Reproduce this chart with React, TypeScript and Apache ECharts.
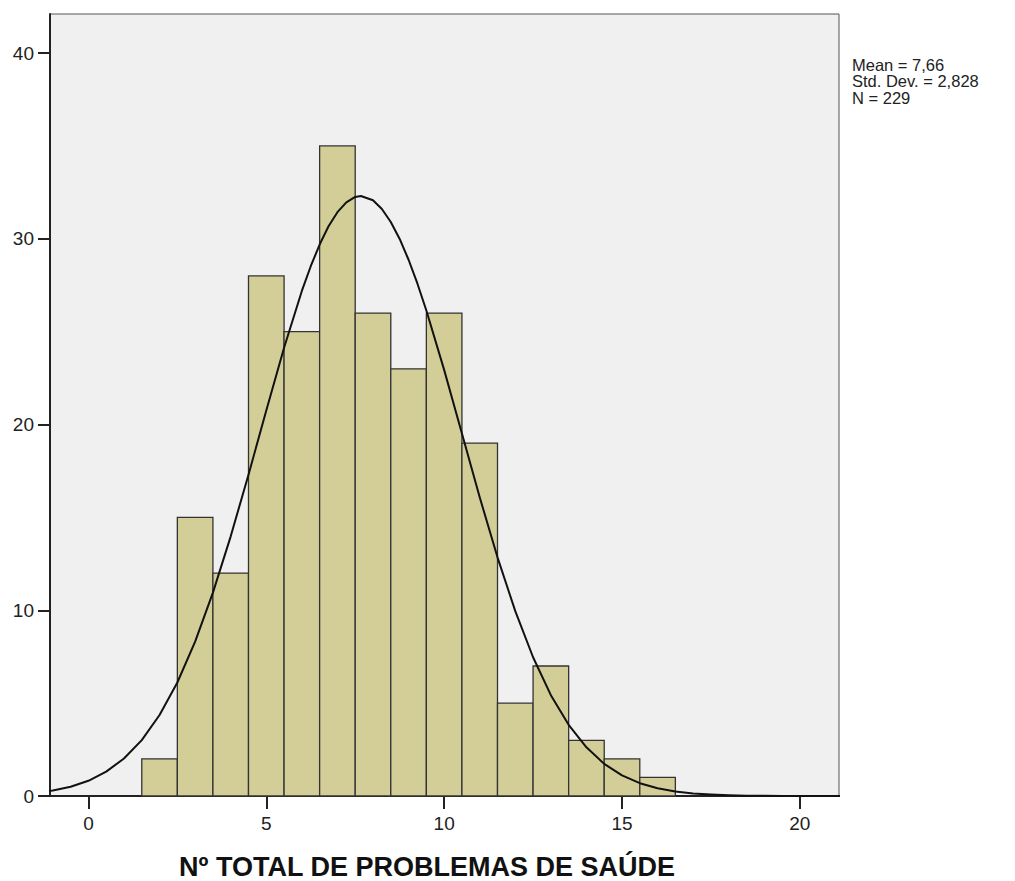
import React, { useEffect, useRef } from "react";
import * as echarts from "echarts";

// Histogram bins (lower edge, upper edge) and frequencies
const binLower = [1.5, 2.5, 3.5, 4.5, 5.5, 6.5, 7.5, 8.5, 9.5, 10.5, 11.5, 12.5, 13.5, 14.5, 15.5];
const binUpper = [2.5, 3.5, 4.5, 5.5, 6.5, 7.5, 8.5, 9.5, 10.5, 11.5, 12.5, 13.5, 14.5, 15.5, 16.5];
const frequencies = [2, 15, 12, 28, 25, 35, 26, 23, 26, 19, 5, 7, 3, 2, 1];

// Fitted normal curve points
const curveX = [-1.2, -1, -0.5, 0, 0.5, 1, 1.5, 2, 2.5, 3, 3.5, 4, 4.5, 5, 5.5, 6, 6.25, 6.5, 6.75, 7, 7.25, 7.5, 7.66, 8, 8.25, 8.5, 8.75, 9, 9.25, 9.5, 10, 10.5, 11, 11.5, 12, 12.5, 13, 13.5, 14, 14.5, 15, 15.5, 16, 16.5, 17, 17.5, 18, 18.5, 19, 19.5, 20, 20.5, 21, 21.2];
const curveY = [0.24, 0.3, 0.5, 0.82, 1.31, 2.02, 3.01, 4.36, 6.11, 8.31, 10.95, 13.98, 17.3, 20.75, 24.13, 27.19, 28.52, 29.69, 30.67, 31.43, 31.96, 32.25, 32.3, 32.07, 31.6, 30.9, 29.99, 28.87, 27.58, 26.14, 22.94, 19.51, 16.08, 12.85, 9.95, 7.47, 5.43, 3.83, 2.62, 1.73, 1.11, 0.69, 0.42, 0.24, 0.14, 0.08, 0.04, 0.02, 0.01, 0.005, 0.002, 0.001, 0.0005, 0.0003];

const xTicks = [0, 5, 10, 15, 20];
const yTicks = [0, 10, 20, 30, 40];
const statsLines = ["Mean = 7,66", "Std. Dev. = 2,828", "N = 229"];
const xTitle = "Nº TOTAL DE PROBLEMAS DE SAÚDE";

const FONT = "Liberation Sans, Arial, sans-serif";

export default function App() {
  const ref = useRef<HTMLDivElement>(null);
  useEffect(() => {
    if (!ref.current) return;
    const chart = echarts.init(ref.current, null, { renderer: "svg" });
    const histData = frequencies.map((f, i) => [binLower[i], binUpper[i], f]);
    const curveData = curveX.map((x, i) => [x, curveY[i]]);
    chart.setOption({
      animation: false,
      backgroundColor: "#ffffff",
      textStyle: { fontFamily: FONT },
      grid: {
        left: 50,
        top: 14,
        width: 789,
        height: 782,
        show: true,
        backgroundColor: "#f0f0f0",
        borderColor: "#555",
        borderWidth: 1,
      },
      xAxis: {
        type: "value",
        min: -1.08,
        max: 21.1,
        interval: 5,
        splitLine: { show: false },
        axisLine: { show: true, onZero: false, lineStyle: { color: "#222", width: 2 } },
        axisTick: {
          show: true,
          length: 13,
          lineStyle: { color: "#222", width: 2 },
          customValues: xTicks,
        },
        axisLabel: {
          color: "#222",
          fontSize: 19,
          margin: 18,
          customValues: xTicks,
          formatter: (v: number) => String(v),
        },
      },
      yAxis: {
        type: "value",
        min: 0,
        max: 42.1,
        splitLine: { show: false },
        axisLine: { show: true, onZero: false, lineStyle: { color: "#222", width: 2 } },
        axisTick: {
          show: true,
          length: 12,
          lineStyle: { color: "#222", width: 2 },
          customValues: yTicks,
        },
        axisLabel: {
          color: "#222",
          fontSize: 19,
          margin: 16,
          customValues: yTicks,
          formatter: (v: number) => String(v),
        },
      },
      graphic: [
        ...statsLines.map((t, i) => ({
          type: "text",
          left: 852,
          top: 56 + i * 16.5,
          style: { text: t, fill: "#222", fontSize: 16.5, fontFamily: FONT },
        })),
        {
          type: "text",
          x: 427,
          y: 867,
          style: {
            text: xTitle,
            fill: "#111",
            fontSize: 27,
            fontWeight: "bold",
            fontFamily: FONT,
            textAlign: "center",
            textVerticalAlign: "middle",
          },
        },
      ],
      series: [
        {
          type: "custom",
          data: histData,
          encode: { x: [0, 1], y: 2 },
          renderItem: (params: any, api: any) => {
            const p0 = api.coord([api.value(0), api.value(2)]);
            const p1 = api.coord([api.value(1), 0]);
            return {
              type: "rect",
              shape: { x: p0[0], y: p0[1], width: p1[0] - p0[0], height: p1[1] - p0[1] },
              style: { fill: "#d3ce97", stroke: "#333", lineWidth: 1.3 },
            };
          },
          z: 2,
        },
        {
          type: "line",
          data: curveData,
          smooth: false,
          showSymbol: false,
          symbol: "none",
          lineStyle: { color: "#111", width: 2, join: "round" },
          z: 3,
        },
      ],
    });
    return () => chart.dispose();
  }, []);
  return (
    <div
      ref={ref}
      style={{ position: "absolute", left: 0, top: 0, width: 1015, height: 881 }}
    />
  );
}
